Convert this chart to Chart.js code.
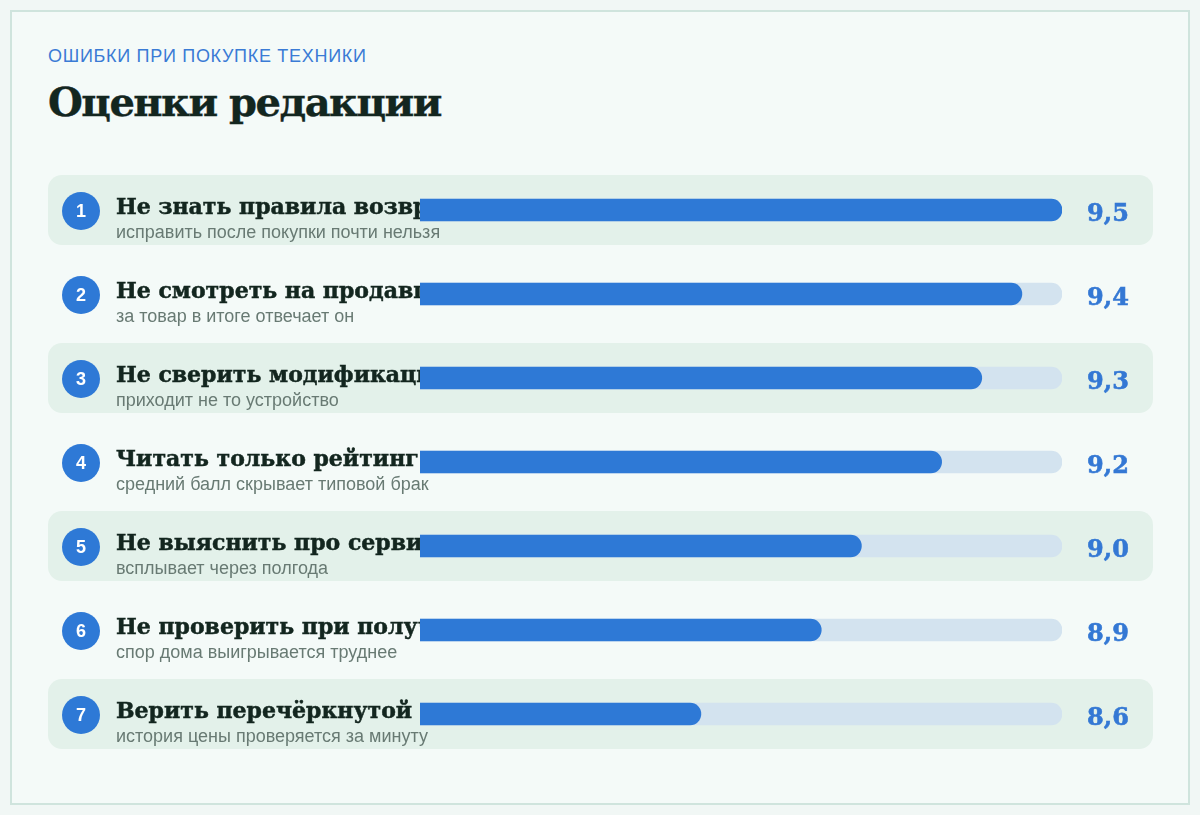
<!DOCTYPE html>
<html lang="ru">
<head>
<meta charset="utf-8">
<title>Оценки редакции</title>
<script src="https://cdn.jsdelivr.net/npm/chart.js@4.4.1/dist/chart.umd.min.js"></script>
<style>
    html, body {
        margin: 0;
        padding: 0;
        background: #f1f7f5;
    }
    .card {
        position: absolute;
        left: 10px;
        top: 10px;
        width: 1176px;
        height: 791px;
        border: 2px solid #cfe4dd;
        background: #f4faf8;
    }
    .kicker {
        position: absolute;
        left: 48px;
        top: 46px;
        font: 18px "Liberation Sans", Arial, sans-serif;
        color: #3a7bd5;
        letter-spacing: 0.7px;
    }
    .title {
        position: absolute;
        left: 48px;
        top: 78px;
        margin: 0;
        font: bold 40px "DejaVu Serif", serif;
        color: #13261f;
        letter-spacing: -1.5px;
        -webkit-text-stroke: 0.4px #13261f;
    }
    .chart-container {
        position: absolute;
        left: 0;
        top: 0;
        width: 1200px;
        height: 815px;
    }
</style>
</head>
<body>
<div class="card"></div>
<div class="kicker">ОШИБКИ ПРИ ПОКУПКЕ ТЕХНИКИ</div>
<h1 class="title">Оценки редакции</h1>
<div class="chart-container"><canvas id="ratingChart"></canvas></div>

<script>
// Chart data
const labels = [
    'Не знать правила возврата',
    'Не смотреть на продавца',
    'Не сверить модификацию',
    'Читать только рейтинг',
    'Не выяснить про сервис',
    'Не проверить при получении',
    'Верить перечёркнутой цене'
];
const notes = [
    'исправить после покупки почти нельзя',
    'за товар в итоге отвечает он',
    'приходит не то устройство',
    'средний балл скрывает типовой брак',
    'всплывает через полгода',
    'спор дома выигрывается труднее',
    'история цены проверяется за минуту'
];
const scores = [9.5, 9.4, 9.3, 9.2, 9.0, 8.9, 8.6];
const scaleMin = 7.9;
const scaleMax = 9.5;

/**
 * Draws the row bands, rank circles and text labels behind the bars
 */
const rowsPlugin = {
    id: 'rows',
    beforeDatasetsDraw(chart) {
        const ctx = chart.ctx;
        const area = chart.chartArea;
        const yScale = chart.scales.y;

        labels.forEach((label, i) => {
            const y = yScale.getPixelForValue(i);

            // shaded band on every other row
            if (i % 2 === 0) {
                ctx.fillStyle = '#e3f1ea';
                ctx.beginPath();
                ctx.roundRect(48, y - 35, 1105, 70, 14);
                ctx.fill();
            }

            // rank circle
            ctx.fillStyle = '#2e79d6';
            ctx.beginPath();
            ctx.arc(81, y + 1, 19, 0, Math.PI * 2);
            ctx.fill();
            ctx.fillStyle = '#ffffff';
            ctx.font = 'bold 18px "Liberation Sans", Arial, sans-serif';
            ctx.textAlign = 'center';
            ctx.textBaseline = 'middle';
            ctx.fillText(String(i + 1), 81, y + 2);

            // main label, cut where the bar begins
            ctx.save();
            ctx.beginPath();
            ctx.rect(0, 0, area.left + 3, chart.height);
            ctx.clip();
            ctx.fillStyle = '#13261f';
            ctx.strokeStyle = '#13261f';
            ctx.lineWidth = 0.5;
            ctx.font = 'bold 22px "DejaVu Serif", serif';
            ctx.textAlign = 'left';
            ctx.textBaseline = 'alphabetic';
            ctx.fillText(label, 116, y + 4);
            ctx.strokeText(label, 116, y + 4);
            ctx.restore();

            // note under the label
            ctx.fillStyle = '#687a73';
            ctx.font = '18px "Liberation Sans", Arial, sans-serif';
            ctx.textAlign = 'left';
            ctx.textBaseline = 'alphabetic';
            ctx.fillText(notes[i], 116, y + 28);
        });
    },
    afterDatasetsDraw(chart) {
        const ctx = chart.ctx;
        const yScale = chart.scales.y;

        // score at the end of each track
        ctx.fillStyle = '#3478d4';
        ctx.strokeStyle = '#3478d4';
        ctx.lineWidth = 0.6;
        ctx.font = 'bold 24px "DejaVu Serif", serif';
        ctx.textAlign = 'center';
        ctx.textBaseline = 'alphabetic';
        scores.forEach((score, i) => {
            const y = yScale.getPixelForValue(i);
            const text = score.toFixed(1).replace('.', ',');
            ctx.fillText(text, 1108, y + 11);
            ctx.strokeText(text, 1108, y + 11);
        });
    }
};

const ctx = document.getElementById('ratingChart').getContext('2d');

new Chart(ctx, {
    type: 'bar',
    data: {
        labels: labels,
        datasets: [
            {
                label: 'Оценка',
                data: scores,
                backgroundColor: '#2e79d6',
                barThickness: 22,
                borderRadius: 11,
                borderSkipped: false
            },
            {
                label: 'Шкала',
                data: labels.map(() => scaleMax),
                backgroundColor: '#d3e3ef',
                barThickness: 22,
                borderRadius: 11,
                borderSkipped: false
            }
        ]
    },
    options: {
        indexAxis: 'y',
        responsive: true,
        maintainAspectRatio: false,
        animation: false,
        events: [],
        layout: {
            padding: { left: 420, right: 138, top: 168, bottom: 59 }
        },
        datasets: {
            bar: { grouped: false }
        },
        scales: {
            x: {
                display: false,
                min: scaleMin,
                max: scaleMax
            },
            y: {
                display: false
            }
        },
        plugins: {
            legend: { display: false },
            tooltip: { enabled: false }
        }
    },
    plugins: [rowsPlugin]
});
</script>
</body>
</html>
